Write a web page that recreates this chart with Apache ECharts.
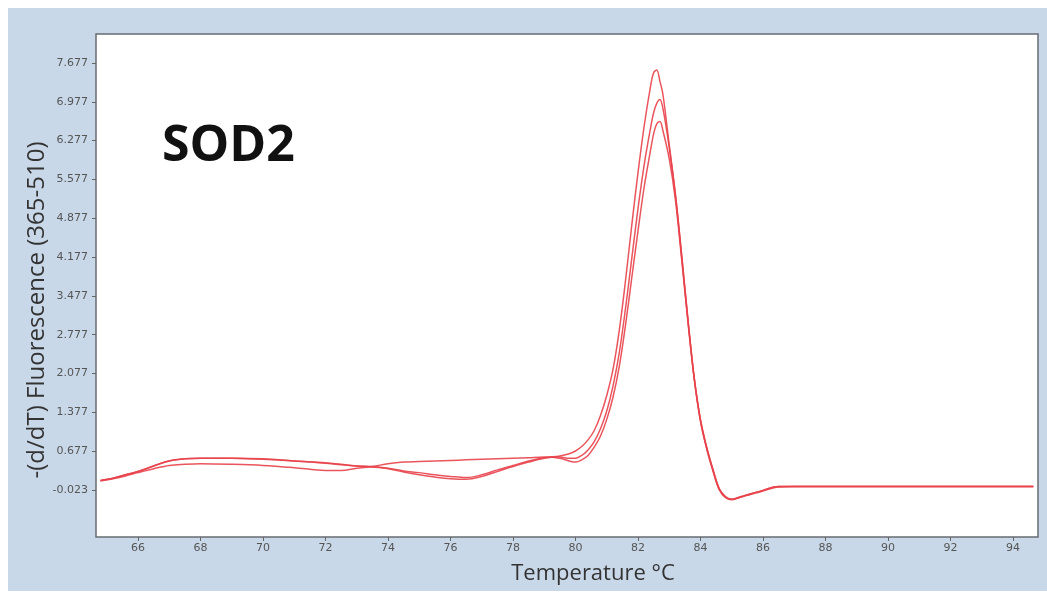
<!DOCTYPE html>
<html>
<head>
<meta charset="utf-8">
<script src="https://cdn.jsdelivr.net/npm/echarts@6/dist/echarts.min.js"></script>
<style>
  html, body { margin: 0; padding: 0; background: #ffffff; }
  #chart { width: 1047px; height: 592px; }
</style>
</head>
<body>
<div id="chart"></div>
<script>
// Melt curve: temperature (°C) against -(d/dT) fluorescence, three replicate wells
const temperatures = [
  64.8, 65.2, 65.6, 66.0, 66.5, 67.0, 67.5, 68.0, 69.0, 70.0,
  71.0, 72.0, 72.5, 73.0, 73.5, 74.0, 74.5, 75.0, 75.5, 76.0,
  76.5, 77.0, 77.5, 78.0, 78.5, 79.0, 79.5, 79.8, 80.0, 80.2,
  80.4, 80.6, 80.8, 81.0, 81.2, 81.4, 81.6, 81.8, 82.0, 82.2,
  82.4, 82.5, 82.6, 82.7, 82.8, 83.0, 83.2, 83.4, 83.6, 83.8,
  84.0, 84.2, 84.4, 84.6, 84.8, 85.0, 85.2, 85.5, 86.0, 86.5,
  87.0, 88.0, 89.0, 90.0, 91.0, 92.0, 93.0, 94.0, 94.65
];

const wellA = [
  0.15, 0.19, 0.25, 0.31, 0.41, 0.50, 0.54, 0.55, 0.55, 0.54,
  0.50, 0.47, 0.44, 0.41, 0.40, 0.37, 0.32, 0.29, 0.25, 0.22,
  0.20, 0.25, 0.34, 0.42, 0.50, 0.56, 0.59, 0.63, 0.68, 0.76,
  0.88, 1.05, 1.32, 1.68, 2.15, 2.85, 3.75, 4.75, 5.70, 6.55,
  7.25, 7.50, 7.55, 7.35, 7.10, 6.20, 5.30, 4.20, 3.05, 2.00,
  1.25, 0.75, 0.35, 0.00, -0.14, -0.19, -0.16, -0.11, -0.03, 0.04,
  0.04, 0.04, 0.04, 0.04, 0.04, 0.04, 0.04, 0.04, 0.04
];

const wellB = [
  0.15, 0.19, 0.25, 0.31, 0.41, 0.50, 0.54, 0.55, 0.55, 0.53,
  0.50, 0.46, 0.43, 0.41, 0.39, 0.36, 0.30, 0.25, 0.21, 0.18,
  0.17, 0.22, 0.31, 0.40, 0.48, 0.55, 0.57, 0.55, 0.55, 0.60,
  0.70, 0.85, 1.08, 1.40, 1.85, 2.45, 3.25, 4.15, 5.05, 5.85,
  6.50, 6.78, 6.95, 7.02, 6.85, 6.15, 5.28, 4.18, 3.02, 1.98,
  1.22, 0.72, 0.32, -0.02, -0.16, -0.20, -0.17, -0.12, -0.04, 0.03,
  0.04, 0.04, 0.04, 0.04, 0.04, 0.04, 0.04, 0.04, 0.04
];

const wellC = [
  0.14, 0.18, 0.23, 0.29, 0.36, 0.42, 0.44, 0.45, 0.44, 0.42,
  0.38, 0.33, 0.33, 0.37, 0.40, 0.45, 0.48, 0.49, 0.50, 0.51,
  0.52, 0.53, 0.54, 0.55, 0.56, 0.57, 0.55, 0.50, 0.48, 0.52,
  0.60, 0.75, 0.95, 1.25, 1.65, 2.20, 2.95, 3.80, 4.65, 5.45,
  6.10, 6.40, 6.58, 6.62, 6.45, 5.95, 5.20, 4.12, 3.00, 1.98,
  1.22, 0.72, 0.33, 0.00, -0.15, -0.19, -0.17, -0.11, -0.03, 0.04,
  0.04, 0.04, 0.04, 0.04, 0.04, 0.04, 0.04, 0.04, 0.04
];

const xTicks = [66, 68, 70, 72, 74, 76, 78, 80, 82, 84, 86, 88, 90, 92, 94];
const yTicks = [-0.023, 0.677, 1.377, 2.077, 2.777, 3.477, 4.177, 4.877, 5.577, 6.277, 6.977, 7.677];

const geneName = 'SOD2';
const xTitle = 'Temperature °C';
const yTitle = '-(d/dT) Fluorescence (365-510)';

const curveColor = '#e8434b';
const tickFont = 'DejaVu Sans';
const titleFont = 'Open Sans';

function toPoints(values) {
  return temperatures.map((t, i) => [t, values[i]]);
}

function meltSeries(name, values) {
  return {
    name: name,
    type: 'line',
    data: toPoints(values),
    smooth: 0.35,
    showSymbol: false,
    symbol: 'none',
    lineStyle: { color: curveColor, width: 1.5, opacity: 0.9 },
    emphasis: { disabled: true }
  };
}

const chart = echarts.init(document.getElementById('chart'), null, { renderer: 'canvas' });

chart.setOption({
  animation: false,
  backgroundColor: '#ffffff',
  grid: {
    left: 96, top: 34, right: 9, bottom: 55,
    show: true,
    backgroundColor: '#ffffff',
    borderColor: '#676b70',
    borderWidth: 1.5
  },
  xAxis: {
    type: 'value',
    min: 64.656,
    max: 94.8,
    axisLine: { show: false, onZero: false },
    splitLine: { show: false },
    axisTick: { show: true, length: 4, customValues: xTicks, lineStyle: { color: '#666' } },
    axisLabel: {
      customValues: xTicks,
      margin: 6,
      color: '#555',
      fontFamily: tickFont,
      fontSize: 11,
      formatter: v => String(v)
    }
  },
  yAxis: {
    type: 'value',
    min: -0.871,
    max: 8.2,
    axisLine: { show: false, onZero: false },
    splitLine: { show: false },
    axisTick: { show: true, length: 4, customValues: yTicks, lineStyle: { color: '#666' } },
    axisLabel: {
      customValues: yTicks,
      margin: 8,
      color: '#555',
      fontFamily: tickFont,
      fontSize: 11,
      formatter: v => v.toFixed(3)
    }
  },
  graphic: [
    {
      type: 'rect', z: -10, silent: true,
      shape: { x: 8, y: 8, width: 1039, height: 583 },
      style: { fill: '#c9d8e8' }
    },
    {
      type: 'text', x: 162, y: 147,
      style: {
        text: geneName, fill: '#111',
        fontFamily: titleFont, fontWeight: 'bold', fontSize: 50,
        verticalAlign: 'middle'
      }
    },
    {
      type: 'text', x: 593, y: 574,
      style: {
        text: xTitle, fill: '#333',
        fontFamily: titleFont, fontSize: 22,
        align: 'center', verticalAlign: 'middle'
      }
    },
    {
      type: 'text', x: 37, y: 310, rotation: Math.PI / 2,
      style: {
        text: yTitle, fill: '#333',
        fontFamily: titleFont, fontSize: 24,
        align: 'center', verticalAlign: 'middle'
      }
    }
  ],
  series: [
    meltSeries('Well A', wellA),
    meltSeries('Well B', wellB),
    meltSeries('Well C', wellC)
  ]
});
</script>
</body>
</html>
